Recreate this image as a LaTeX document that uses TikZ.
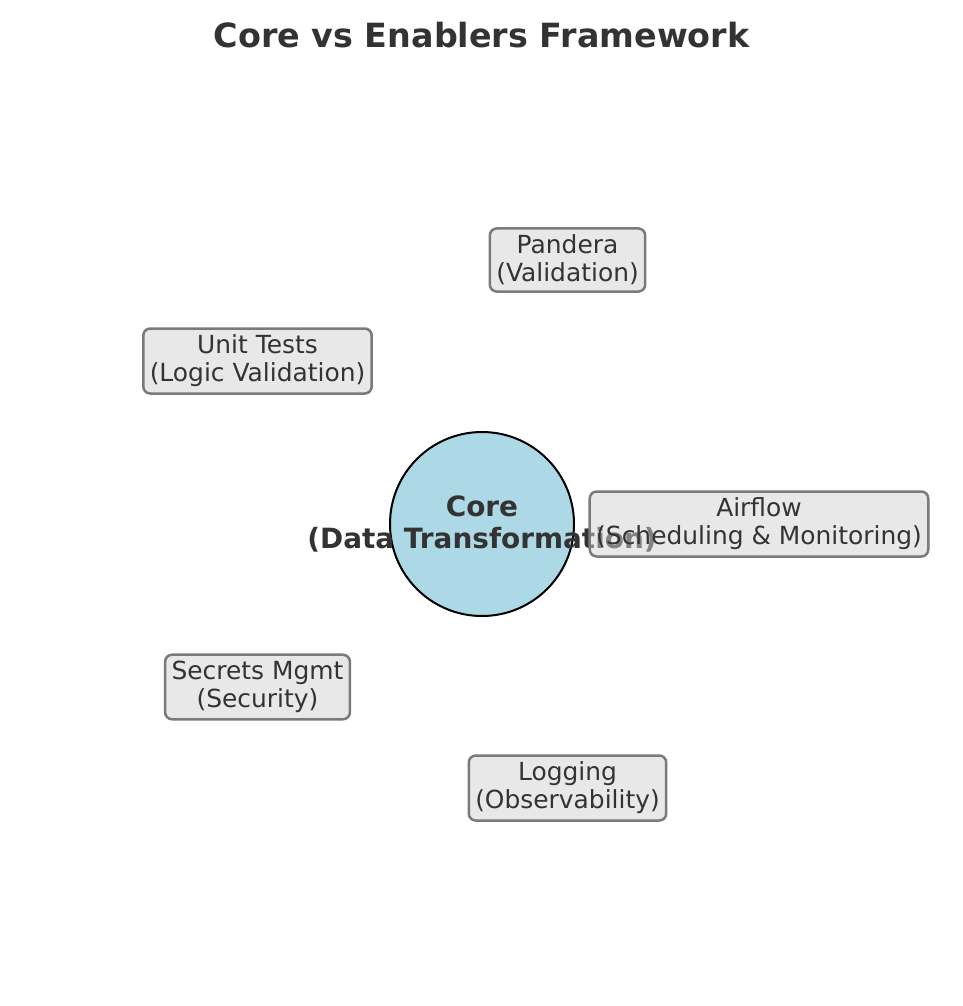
\documentclass[tikz,border=0pt]{standalone}
\usepackage{fontspec}
\setmainfont{DejaVu Sans}
\definecolor{inkgray}{HTML}{333333}
\definecolor{edgegray}{HTML}{7A7A7A}
\definecolor{boxgray}{HTML}{D1D1D1}
\definecolor{corefill}{HTML}{ADD8E6}
\begin{document}
\begin{tikzpicture}[x=1bp, y=-1bp,
        enabler/.style={draw=edgegray, line width=2.5bp, fill=boxgray, fill opacity=0.5,
            text opacity=1, rounded corners=7bp, inner sep=6.5bp, align=center,
            text=inkgray, font=\fontsize{25}{28}\selectfont},
        core/.style={circle, draw=black, line width=2bp, fill=corefill, minimum size=184bp},
        corelabel/.style={align=center, text=inkgray, font=\bfseries\fontsize{28}{33}\selectfont},
        title/.style={text=inkgray, font=\bfseries\fontsize{33.5}{40}\selectfont}
        ]
        \useasboundingbox (0,0) rectangle (963,1006);
        \node[title] (Title) at (481.5,35) {Core vs Enablers Framework};
        % the core in the middle
        \node[core] (Core) at (482,524) {};
        \node[corelabel] (CoreText) at (Core) {Core\\(Data Transformation)};
        % enablers round it
        \node[enabler] (Pandera) at (567.5,260) {Pandera\\(Validation)};
        \node[enabler] (UnitTests) at (257.5,361) {Unit Tests\\(Logic Validation)};
        \node[enabler] (Airflow) at (759,524) {Airflow\\(Scheduling \& Monitoring)};
        \node[enabler] (Secrets) at (257.5,687) {Secrets Mgmt\\(Security)};
        \node[enabler] (Logging) at (567.5,788) {Logging\\(Observability)};
\end{tikzpicture}
\end{document}
